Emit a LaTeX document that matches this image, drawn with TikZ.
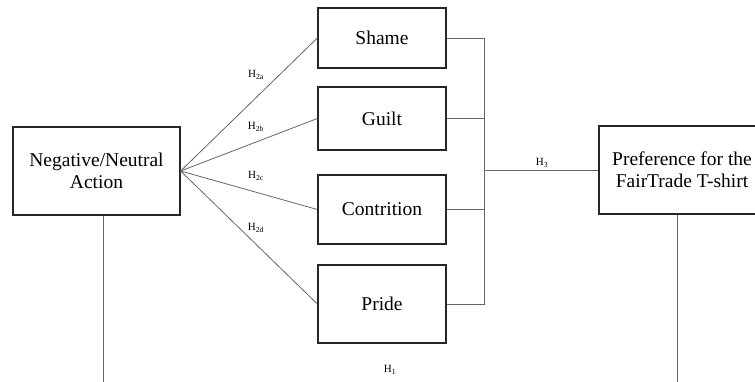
\documentclass[tikz,border=0pt]{standalone}
\usepackage{fontspec}
\setmainfont{Liberation Serif}
\begin{document}
\begin{tikzpicture}[x=1pt,y=-1pt,
  box/.style={draw=black!85,line width=1.3pt,align=center,font=\fontsize{19.5}{22}\selectfont,inner sep=0pt},
  conn/.style={draw=black!60,line width=0.8pt},
  hlab/.style={font=\fontsize{11}{12}\selectfont,inner sep=1pt}]
\useasboundingbox (0,0) rectangle (755,382);
\node[box,minimum width=167pt,minimum height=88pt] (neg) at (96.5,171) {Negative/Neutral\\Action};
\node[box,minimum width=128pt,minimum height=60pt] (shame) at (382,38) {Shame};
\node[box,minimum width=128pt,minimum height=63pt] (guilt) at (382,118.5) {Guilt};
\node[box,minimum width=128pt,minimum height=69pt] (contr) at (382,209.5) {Contrition};
\node[box,minimum width=128pt,minimum height=78pt] (pride) at (382,304) {Pride};
\node[box,minimum width=166pt,minimum height=88pt] (pref) at (682,170) {Preference for the\\FairTrade T-shirt};
\coordinate (fan) at (neg.east);
\draw[conn] (fan) -- (shame.west);
\draw[conn] (fan) -- (guilt.west);
\draw[conn] (fan) -- (contr.west);
\draw[conn] (fan) -- (pride.west);
\node[hlab] (h2a) at (256,75) {H\textsubscript{2a}};
\node[hlab] (h2b) at (256,127) {H\textsubscript{2b}};
\node[hlab] (h2c) at (256,176) {H\textsubscript{2c}};
\node[hlab] (h2d) at (256,228) {H\textsubscript{2d}};
\coordinate (bt) at (484,36);
\coordinate (bb) at (484,304);
\coordinate (bm) at (484,170);
\draw[conn] (shame.east) -- (shame.east -| bt) -- (bb) -- (pride.east);
\draw[conn] (guilt.east) -- (guilt.east -| bt);
\draw[conn] (contr.east) -- (contr.east -| bt);
\draw[conn] (bm) -- (pref.west);
\node[hlab] (h3) at (542,163) {H\textsubscript{3}};
\coordinate (botL) at (103,382);
\coordinate (botR) at (677,382);
\draw[conn] (neg.south -| botL) -- (botL);
\draw[conn] (pref.south -| botR) -- (botR);
\node[hlab] (h1) at (390,370) {H\textsubscript{1}};
\end{tikzpicture}
\end{document}
